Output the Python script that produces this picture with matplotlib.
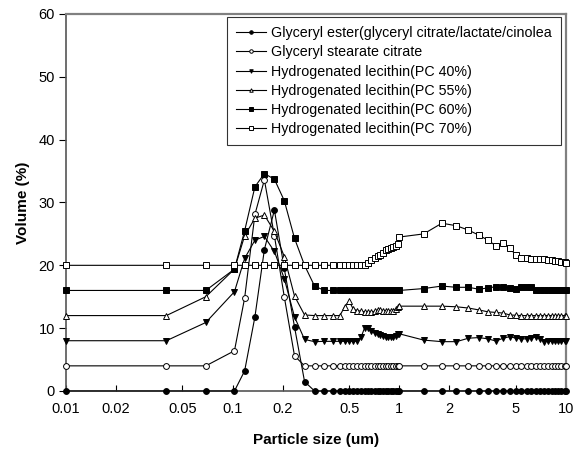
import matplotlib
matplotlib.use("Agg")
import matplotlib.pyplot as plt
from matplotlib.ticker import FixedLocator, FixedFormatter, NullLocator

plt.rcParams["font.family"] = ["Liberation Sans", "DejaVu Sans"]

# particle size grid (um), shared by all six curves
size_um = [0.01, 0.04, 0.069, 0.1025,
           0.118, 0.136, 0.155, 0.178, 0.204, 0.235, 0.27, 0.31,
           0.355, 0.40, 0.44, 0.47, 0.50, 0.53, 0.56, 0.59, 0.62,
           0.65, 0.68, 0.71, 0.74, 0.77, 0.80, 0.83, 0.86, 0.89, 0.92, 0.95, 0.98, 1.0,
           1.4, 1.8, 2.2, 2.6, 3.0, 3.4, 3.8, 4.2, 4.6, 5.0, 5.4, 5.8, 6.2,
           6.6, 7.0, 7.4, 7.8, 8.2, 8.6, 9.0, 9.4, 9.8, 10.0]

# volume (%) curves, stacked with offsets of 4 %
ester = [0, 0, 0, 0,
         3.2, 11.8, 22.5, 28.8, 19.5, 10.2, 1.5, 0,
         0, 0, 0, 0, 0, 0, 0, 0, 0,
         0, 0, 0, 0, 0, 0, 0, 0, 0, 0, 0, 0, 0,
         0, 0, 0, 0, 0, 0, 0, 0, 0, 0, 0, 0, 0,
         0, 0, 0, 0, 0, 0, 0, 0, 0, 0]

stearate = [4, 4, 4, 6.4,
            14.8, 28.1, 33.6, 24.7, 15.0, 5.6, 4.0, 4.0,
            4, 4, 4, 4, 4, 4, 4, 4, 4,
            4, 4, 4, 4, 4, 4, 4, 4, 4, 4, 4, 4, 4,
            4, 4, 4, 4, 4, 4, 4, 4, 4, 4, 4, 4, 4,
            4, 4, 4, 4, 4, 4, 4, 4, 4, 4]

pc40 = [8, 8, 10.9, 15.8,
        21.1, 24.0, 24.6, 22.2, 17.9, 11.8, 8.2, 7.85,
        7.9, 7.9, 7.9, 7.9, 7.9, 7.9, 7.9, 8.6, 10.1,
        10.0, 9.5, 9.2, 9.0, 8.9, 8.75, 8.6, 8.6, 8.55, 8.6, 8.75, 9.1, 9.1,
        8.1, 7.85, 7.85, 8.4, 8.5, 8.3, 7.95, 8.4, 8.65, 8.4, 8.3, 8.3, 8.45,
        8.55, 8.3, 7.85, 7.9, 7.9, 7.9, 7.9, 7.9, 7.9, 7.9]

pc55 = [12, 12, 15.0, 19.4,
        24.7, 27.5, 28.0, 25.4, 21.4, 15.1, 12.1, 12.0,
        12, 12, 12, 13.4, 14.3, 13.0, 12.8, 12.7, 12.6,
        12.5, 12.5, 12.7, 12.9, 12.9, 12.8, 12.7, 12.7, 12.7, 12.8, 13.0, 13.4, 13.5,
        13.5, 13.5, 13.4, 13.2, 12.9, 12.6, 12.5, 12.4, 12.1, 12.05, 12, 12, 12,
        12, 12, 12, 12, 12, 12, 12, 12, 12, 12]

pc60 = [16, 16, 16, 19.4,
        25.5, 32.5, 34.6, 33.7, 30.3, 24.3, 20.0, 16.7,
        16, 16, 16, 16, 16, 16, 16, 16, 16,
        16, 16, 16, 16, 16, 16, 16, 16, 16, 16, 16, 16, 16,
        16.3, 16.7, 16.5, 16.5, 16.2, 16.4, 16.6, 16.5, 16.4, 16.3, 16.6, 16.6, 16.5,
        16.1, 16.1, 16.1, 16.1, 16.1, 16.1, 16.1, 16.1, 16.1, 16.1]

pc70 = [20, 20, 20, 20,
        20, 20, 20, 20, 20, 20, 20, 20,
        20, 20, 20, 20, 20, 20, 20, 20, 20,
        20.3, 20.8, 21.2, 21.5, 21.6, 22.0, 22.4, 22.6, 22.7, 22.9, 23.1, 23.4, 24.5,
        25.0, 26.7, 26.3, 25.6, 24.8, 24.0, 23.1, 23.5, 22.8, 21.6, 21.2, 21.1, 21.05,
        21.0, 21.0, 20.95, 20.9, 20.85, 20.75, 20.65, 20.6, 20.5, 20.4]

labels = ["Glyceryl ester(glyceryl citrate/lactate/cinolea",
          "Glyceryl stearate citrate",
          "Hydrogenated lecithin(PC 40%)",
          "Hydrogenated lecithin(PC 55%)",
          "Hydrogenated lecithin(PC 60%)",
          "Hydrogenated lecithin(PC 70%)"]
series = [ester, stearate, pc40, pc55, pc60, pc70]
markers = ["o", "o", "v", "^", "s", "s"]
faces = ["black", "white", "black", "white", "black", "white"]

xticks = [0.01, 0.02, 0.05, 0.1, 0.2, 0.5, 1, 2, 5, 10]
xticklabels = ["0.01", "0.02", "0.05", "0.1", "0.2", "0.5", "1", "2", "5", "10"]

fig = plt.figure(figsize=(5.76, 4.54), dpi=100)
ax = fig.add_axes([0.1146, 0.1388, 0.868, 0.8304])

for ys, lab, m, fc in zip(series, labels, markers, faces):
    ax.plot(size_um, ys, color="black", lw=0.8, marker=m, markersize=4.2,
            markerfacecolor=fc, markeredgecolor="black", markeredgewidth=0.7,
            label=lab, clip_on=False, zorder=3)

ax.set_xscale("log")
ax.set_xlim(0.01, 10)
ax.set_ylim(0, 60)
ax.xaxis.set_major_locator(FixedLocator(xticks))
ax.xaxis.set_major_formatter(FixedFormatter(xticklabels))
ax.xaxis.set_minor_locator(NullLocator())
ax.set_yticks(range(0, 61, 10))

ax.tick_params(axis="x", direction="in", length=4, width=0.8, labelsize=10.5, pad=8)
ax.tick_params(axis="y", direction="out", length=5, width=0.8, labelsize=10.5, pad=3)

for side in ["top", "right"]:
    ax.spines[side].set_color("#808080")
    ax.spines[side].set_linewidth(1.6)
for side in ["left", "bottom"]:
    ax.spines[side].set_color("#555555")
    ax.spines[side].set_linewidth(1.2)

ax.set_xlabel("Particle size (um)", fontsize=11, fontweight="bold", labelpad=12)
ax.set_ylabel("Volume (%)", fontsize=11, fontweight="bold", labelpad=6)

leg = ax.legend(loc="upper right", bbox_to_anchor=(0.99, 0.992), fontsize=10.3,
                frameon=True, fancybox=False, edgecolor="black",
                markerscale=0.6, handlelength=2.1, handletextpad=0.35,
                labelspacing=0.36, borderpad=0.65, borderaxespad=0)
leg.get_frame().set_linewidth(0.8)

fig.savefig("out.png", dpi=100)
